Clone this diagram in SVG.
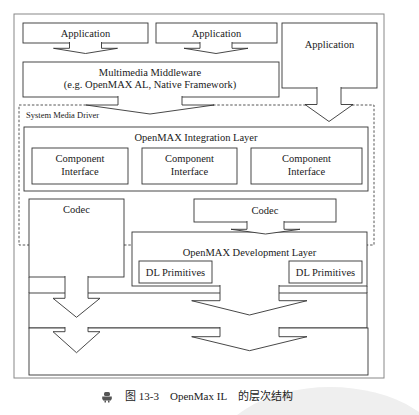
<svg xmlns="http://www.w3.org/2000/svg" width="419" height="415" viewBox="0 0 419 415">
<style>
.bx{fill:#fff;stroke:#333;stroke-width:0.9}
.ln{fill:none;stroke:#333;stroke-width:0.9}
.ar{fill:#fff;stroke:#333;stroke-width:0.9;stroke-linejoin:miter}
.dash{fill:none;stroke:#444;stroke-width:0.9;stroke-dasharray:2.5,1.8}
.t{font-family:"Liberation Serif","Times New Roman",serif;font-size:10.5px;fill:#1a1a1a;text-anchor:middle}
.s{font-family:"Liberation Serif","Times New Roman",serif;font-size:8.5px;fill:#1a1a1a}
.cap{font-family:"Liberation Serif","Noto Sans CJK SC",serif;font-size:11px;fill:#222}
</style>
<rect width="419" height="415" fill="#fff"/>
<ellipse cx="330" cy="460" rx="118" ry="73" fill="#efefef"/>
<rect x="14" y="14" width="370" height="364" fill="none" stroke="#888" stroke-width="1"/>

<g id="system-media-driver">
<path class="dash" d="M86 105 H19 V245 H29 M124 245 H132 M213 105 H306 M352 105 H374 V245 H367"/>
<text class="s" x="26" y="118">System Media Driver</text>
</g>

<g id="app1"><rect class="bx" x="23" y="23" width="125" height="20"/><text class="t" x="85.5" y="37">Application</text></g>
<g id="app2"><rect class="bx" x="156" y="23" width="121" height="20"/><text class="t" x="216.5" y="37">Application</text></g>
<g id="app3"><rect class="bx" x="282" y="23" width="95" height="65"/><text class="t" x="329.5" y="48">Application</text></g>
<g id="middleware"><rect class="bx" x="23" y="62" width="256" height="35"/>
<text class="t" x="150" y="76">Multimedia Middleware</text>
<text class="t" x="150" y="88">(e.g. OpenMAX AL, Native Framework)</text></g>

<g id="integration-layer"><rect class="bx" x="24" y="127" width="344" height="64"/>
<text class="t" x="196" y="141">OpenMAX Integration Layer</text></g>
<g id="ci1"><rect class="bx" x="32" y="148" width="96" height="36"/><text class="t" x="80" y="162">Component</text><text class="t" x="80" y="175">Interface</text></g>
<g id="ci2"><rect class="bx" x="142" y="148" width="95" height="36"/><text class="t" x="189.5" y="162">Component</text><text class="t" x="189.5" y="175">Interface</text></g>
<g id="ci3"><rect class="bx" x="251" y="148" width="111" height="36"/><text class="t" x="306.5" y="162">Component</text><text class="t" x="306.5" y="175">Interface</text></g>

<g id="codec1"><rect class="bx" x="29" y="199" width="95" height="78"/><text class="t" x="76.5" y="213">Codec</text></g>
<g id="codec2"><rect class="bx" x="194" y="199" width="142" height="23"/><text class="t" x="265" y="213.5">Codec</text></g>

<g id="dev-layer"><rect class="bx" x="132" y="232" width="235" height="54"/>
<text class="t" x="249.5" y="256">OpenMAX Development Layer</text></g>
<g id="dl1"><rect class="bx" x="139" y="261" width="73" height="22"/><text class="t" x="175.5" y="275.5">DL Primitives</text></g>
<g id="dl2"><rect class="bx" x="289" y="261" width="73" height="22"/><text class="t" x="325.5" y="275.5">DL Primitives</text></g>

<g id="band1"><rect class="bx" x="29" y="293" width="338" height="35"/><path class="ln" d="M29 277 V293 M367 286 V293"/></g>
<g id="band2"><rect class="bx" x="29" y="328" width="339" height="47"/></g>

<g id="connectors">
<path class="ar" d="M69.5 42 V48.3 H53.5 L85.5 53.5 L117.5 48.3 H101.5 V42"/>
<path class="ar" d="M200 42 V48.3 H184 L216 53.5 L248 48.3 H232 V42"/>
<path class="ar" d="M118 96 V105 H86 L150 114 L214 105 H182 V96"/>
<path class="ar" d="M317 87 V104.5 H305 L329 121.5 L353 104.5 H341 V87"/>
<path class="ar" d="M247 221 V229.3 H231 L265.5 234 L300 229.3 H284 V221"/>
<path class="ar" d="M65 276 V298.3 H53 L76.5 317.3 L100 298.3 H88 V276"/>
<path class="ar" d="M65 327 V331.7 H53 L76.5 352.7 L100 331.7 H88 V327"/>
<path class="ar" d="M220 285 V300.7 H191.7 L249.5 315 L307 300.7 H279 V285"/>
<path class="ar" d="M220 327 V336.7 H191.7 L249.5 350.7 L307 336.7 H279 V327"/>
</g>

<g id="caption">
<g fill="#555">
<rect x="104" y="392" width="6" height="4" rx="1.5"/>
<rect x="103" y="396.5" width="8" height="4"/>
<rect x="102" y="396.5" width="0.8" height="3"/>
<rect x="111.2" y="396.5" width="0.8" height="3"/>
<rect x="104.5" y="400.5" width="1.5" height="2"/>
<rect x="108" y="400.5" width="1.5" height="2"/>
</g>
<text class="cap" x="125" y="400">图 13-3</text>
<text class="cap" x="170" y="400" font-size="12">OpenMax IL</text>
<text class="cap" x="238" y="400" font-family="'Noto Sans CJK SC',sans-serif" font-size="10.5">的层次结构</text>
</g>
</svg>
